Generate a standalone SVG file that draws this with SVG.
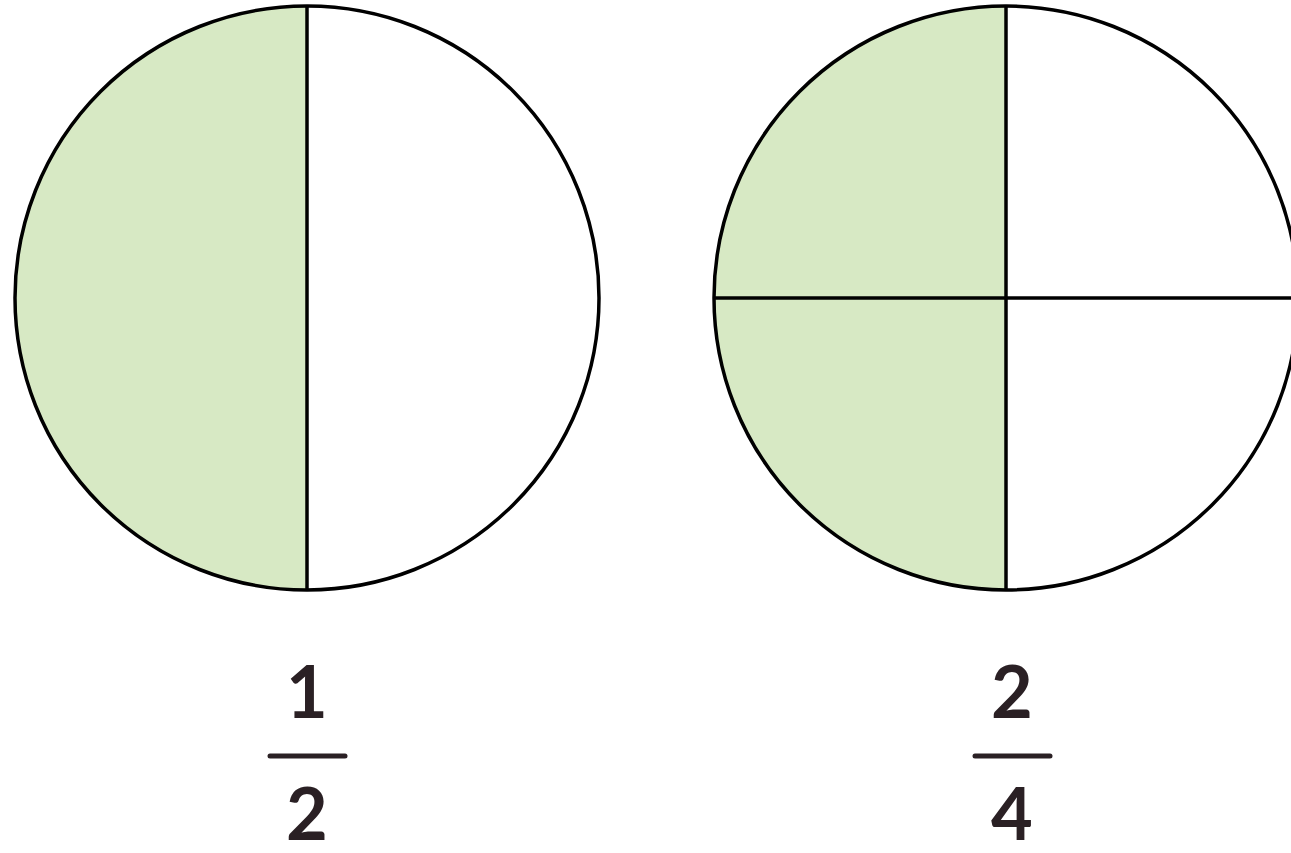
<svg xmlns="http://www.w3.org/2000/svg" width="1291" height="853" viewBox="0 0 1291 853">
<style>
.outline{fill:none;stroke:#000;stroke-width:3.5}
.shade{fill:#d7e9c4;stroke:none}
.div{stroke:#000;stroke-width:3.5}
.num{font-family:"Lato","Noto Sans",sans-serif;font-weight:bold;font-size:72px;fill:#2a2024;text-anchor:middle}
.bar{stroke:#2a2024;stroke-width:5;stroke-linecap:round}
</style>
<rect width="1291" height="853" fill="#fff"/>
<g id="half-circle">
<path class="shade" d="M307 6 A292 292 0 0 0 307 590 Z"/>
<line class="div" x1="307" y1="6" x2="307" y2="590"/>
<circle class="outline" cx="307" cy="298" r="292"/>
</g>
<g id="quarter-circle">
<path class="shade" d="M1006 6 A292 292 0 0 0 1006 590 Z"/>
<line class="div" x1="1006" y1="6" x2="1006" y2="590"/>
<line class="div" x1="714" y1="298" x2="1298" y2="298"/>
<circle class="outline" cx="1006" cy="298" r="292"/>
</g>
<g id="fraction-1-2">
<text class="num" x="307" y="718">1</text>
<line class="bar" x1="270" y1="756" x2="345" y2="756"/>
<text class="num" x="307" y="840">2</text>
</g>
<g id="fraction-2-4">
<text class="num" x="1012" y="718">2</text>
<line class="bar" x1="975" y1="756" x2="1050" y2="756"/>
<text class="num" x="1012" y="840">4</text>
</g>
</svg>
